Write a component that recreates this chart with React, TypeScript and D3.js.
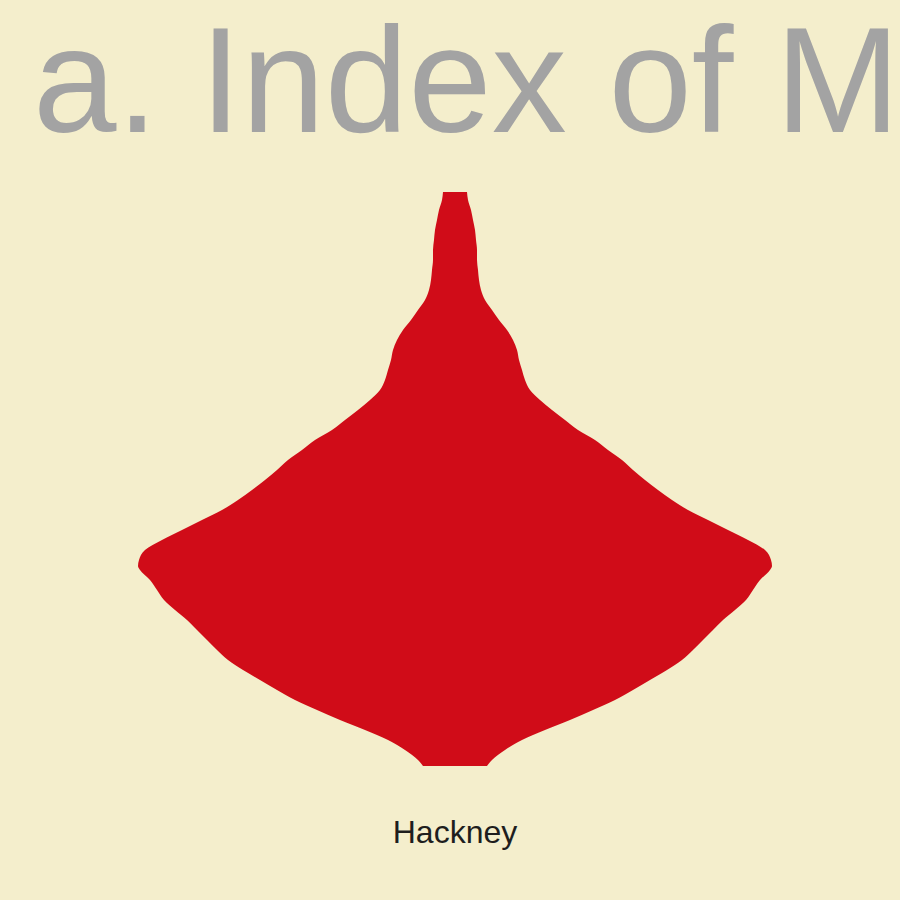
import React, { useEffect, useRef } from 'react';
import * as d3 from 'd3';

// IMD score (bottom -> top) and the kernel density at each score
const scores = [
  8.0, 8.6, 9.6, 10.6, 11.6, 12.6, 13.6, 14.6, 15.6, 16.6, 17.6, 18.6, 19.6, 20.6,
  21.6, 22.6, 23.6, 24.6, 25.6, 26.6, 27.6, 28.0, 28.6, 29.6, 30.6, 31.6, 32.6, 33.6,
  34.6, 35.6, 36.6, 37.6, 38.6, 39.6, 40.6, 41.6, 42.6, 43.6, 44.6, 45.6, 46.6, 47.6,
  48.6, 49.6, 50.6, 51.6, 52.6, 53.6, 54.6, 55.6, 56.6, 57.6, 58.6, 59.6, 60.6, 61.6,
  62.6, 63.6, 64.6, 65.4,
];
const densities = [
  32, 37, 50, 67, 90, 115, 138, 160, 178, 195, 212, 227, 238, 248,
  258, 268, 280, 291, 298, 305, 315, 317, 316, 310, 293, 273, 253, 233,
  217, 203, 190, 178, 167, 153, 140, 123, 110, 97, 85, 75, 70, 67,
  64, 62, 58, 52, 44, 37, 30, 26, 24, 23, 22, 22, 21, 20,
  18, 16, 13, 12,
];
const boroughs = ['Hackney'];
const titleText = 'a. Index of M';

const WIDTH = 900;
const HEIGHT = 900;

interface ViolinPoint {
  score: number;
  density: number;
}

const App: React.FC = () => {
  const svgRef = useRef<SVGSVGElement>(null);

  useEffect(() => {
    const svgElement = svgRef.current;
    if (!svgElement) return;

    const svg = d3.select(svgElement);
    svg.selectAll('*').remove();

    const points: ViolinPoint[] = scores.map((s, i) => ({ score: s, density: densities[i] }));

    // background panel
    svg.append('rect')
      .attr('width', WIDTH)
      .attr('height', HEIGHT)
      .attr('fill', '#F4EECC');

    // title (runs off the right edge, like the original)
    svg.append('text')
      .attr('x', 33)
      .attr('y', 132)
      .style('font-family', '"Liberation Sans", Arial, sans-serif')
      .style('font-size', '150px')
      .style('fill', '#A3A3A3')
      .text(titleText);

    const xScale = d3.scaleBand<string>()
      .domain(boroughs)
      .range([134, 776]);

    const yScale = d3.scaleLinear()
      .domain([8.0, 65.4])
      .range([766, 192]);

    const wScale = d3.scaleLinear()
      .domain([0, d3.max(densities) as number])
      .range([0, 317]);

    const cx = (xScale(boroughs[0]) as number) + xScale.bandwidth() / 2;

    const area = d3.area<ViolinPoint>()
      .y(d => yScale(d.score))
      .x0(d => cx - wScale(d.density))
      .x1(d => cx + wScale(d.density))
      .curve(d3.curveMonotoneY);

    svg.append('path')
      .datum(points)
      .attr('d', area)
      .attr('fill', '#D00C18');

    // category label
    svg.append('text')
      .attr('x', cx)
      .attr('y', 843)
      .attr('text-anchor', 'middle')
      .style('font-family', '"Liberation Sans", Arial, sans-serif')
      .style('font-size', '32px')
      .style('fill', '#1E1E1E')
      .text(boroughs[0]);
  }, []);

  return (
    <svg
      ref={svgRef}
      width={WIDTH}
      height={HEIGHT}
      style={{ position: 'absolute', left: 0, top: 0, display: 'block', overflow: 'hidden' }}
    />
  );
};

export default App;
